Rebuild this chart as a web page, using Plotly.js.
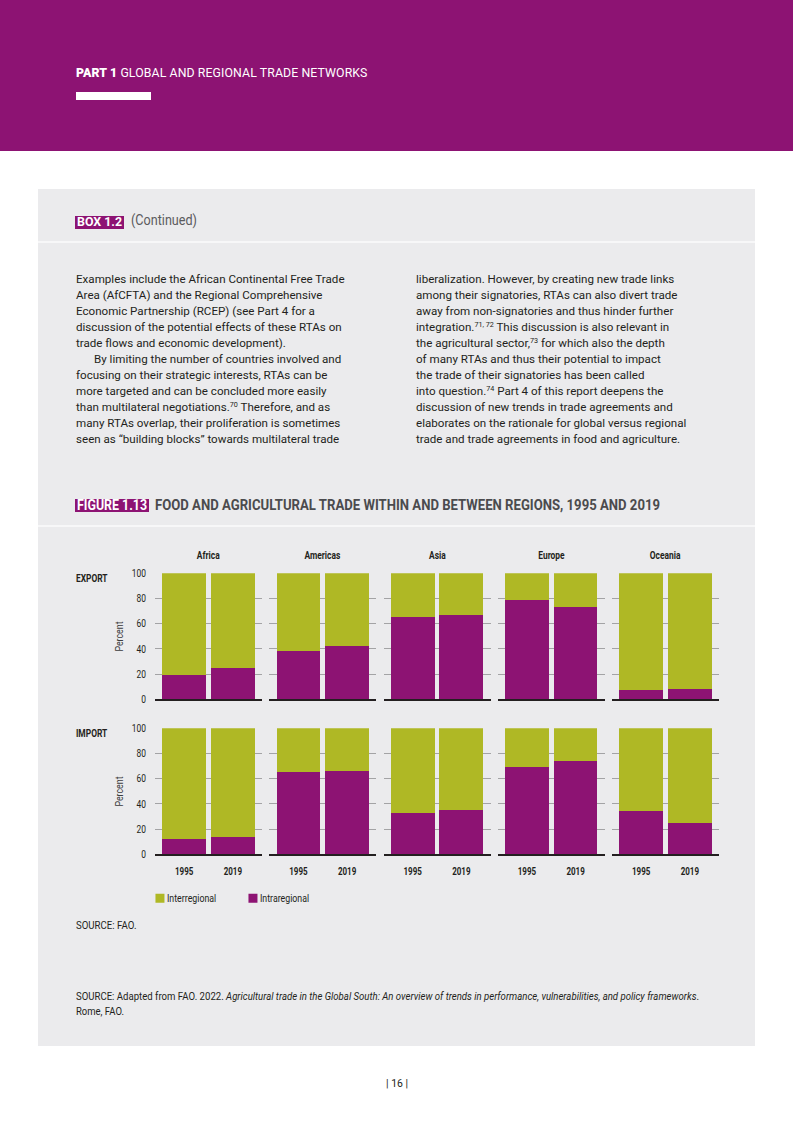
<!DOCTYPE html>
<html>
<head>
<meta charset="utf-8">
<script src="https://cdn.plot.ly/plotly-3.0.1.min.js"></script>
<style>
  html, body { margin:0; padding:0; }
  body { width:793px; height:1122px; position:relative; background:#ffffff; overflow:hidden;
         font-family: Roboto, "Liberation Sans", sans-serif; color:#231f20; }
  .abs { position:absolute; white-space:nowrap; }
  .fit { display:inline-block; transform-origin:left top; white-space:nowrap; }
  #header { left:0; top:0; width:793px; height:151px; background:#8d1373; }
  #part { left:76px; top:66px; font-size:12.3px; color:#fff; letter-spacing:0.1px; }
  #part b { font-weight:900; }
  #rule { left:76px; top:92px; width:75px; height:8px; background:#fff; }
  #box { left:38px; top:189px; width:717px; height:857px; background:#ebebed; }
  .sep { left:38px; width:717px; height:2px; background:#f7f7f8; }
  .tagbox { background:#8d1373; }
  .tagtxt { color:#fff; font-weight:bold; }
  .body { font-size:11.6px; line-height:16px; }
  .body sup { font-size:0.62em; vertical-align:0.5em; line-height:0; }
  .indent { padding-left:18px; }
</style>
</head>
<body>
<div id="header" class="abs"></div>
<div id="part" class="abs"><b>PART 1</b> GLOBAL AND REGIONAL TRADE NETWORKS</div>
<div id="rule" class="abs"></div>
<div id="box" class="abs"></div>

<div class="abs tagbox" style="left:75px; top:215.5px; height:13px; width:49px;"></div>
<div class="abs" style="left:77px; top:213px; font-size:13.5px; line-height:17px;"><span class="fit tagtxt" data-w="45">BOX 1.2</span></div>
<div class="abs" style="left:131px; top:212px; font-size:14.5px; line-height:17px; color:#5b5b5e;"><span class="fit" data-w="66">(Continued)</span></div>
<div class="abs sep" style="top:241px;"></div>

<div class="abs body" style="left:76px; top:271px;">
Examples include the African Continental Free Trade<br>
Area (AfCFTA) and the Regional Comprehensive<br>
Economic Partnership (RCEP) (see Part 4 for a<br>
discussion of the potential effects of these RTAs on<br>
trade flows and economic development).<br>
<span class="indent">By limiting the number of countries involved and</span><br>
focusing on their strategic interests, RTAs can be<br>
more targeted and can be concluded more easily<br>
than multilateral negotiations.<sup>70</sup> Therefore, and as<br>
many RTAs overlap, their proliferation is sometimes<br>
seen as “building blocks” towards multilateral trade
</div>
<div class="abs body" style="left:416px; top:271px;">
liberalization. However, by creating new trade links<br>
among their signatories, RTAs can also divert trade<br>
away from non-signatories and thus hinder further<br>
integration.<sup>71, 72</sup> This discussion is also relevant in<br>
the agricultural sector,<sup>73</sup> for which also the depth<br>
of many RTAs and thus their potential to impact<br>
the trade of their signatories has been called<br>
into question.<sup>74</sup> Part 4 of this report deepens the<br>
discussion of new trends in trade agreements and<br>
elaborates on the rationale for global versus regional<br>
trade and trade agreements in food and agriculture.
</div>

<div class="abs tagbox" style="left:75px; top:499.3px; height:13px; width:74.3px;"></div>
<div class="abs" style="left:77px; top:497px; font-size:14px; line-height:17px;"><span class="fit tagtxt" data-w="70">FIGURE 1.13</span></div>
<div class="abs" style="left:155px; top:497px; font-size:14.3px; line-height:17px; font-weight:bold; color:#4b4b4e;"><span class="fit" data-w="505">FOOD AND AGRICULTURAL TRADE WITHIN AND BETWEEN REGIONS, 1995 AND 2019</span></div>
<div class="abs sep" style="top:525px;"></div>

<div id="chart" class="abs" style="left:0; top:530px; width:793px; height:390px;"></div>

<div class="abs" style="left:76px; top:919px; font-size:10.5px; line-height:14px;"><span class="fit" data-w="60.5">SOURCE: FAO.</span></div>
<div class="abs" style="left:76px; top:989px; font-size:10.5px; line-height:15px;"><span class="fit" data-w="623">SOURCE: Adapted from FAO. 2022. <i>Agricultural trade in the Global South: An overview of trends in performance, vulnerabilities, and policy frameworks</i>.</span></div>
<div class="abs" style="left:76px; top:1004px; font-size:10.5px; line-height:15px;"><span class="fit" data-w="48">Rome, FAO.</span></div>
<div class="abs" style="left:386px; top:1077px; font-size:10px; line-height:14px;"><span class="fit" data-w="22">| 16 |</span></div>

<script>
// ---- data ----
const regions = ["Africa", "Americas", "Asia", "Europe", "Oceania"];
const years = ["1995", "2019"];
const rowLabels = ["EXPORT", "IMPORT"];
// intraregional share (%) per region, [1995, 2019]
const exportIntra = {
  Africa: [19, 25], Americas: [38, 42], Asia: [65, 67], Europe: [79, 73], Oceania: [7, 8]
};
const importIntra = {
  Africa: [12, 14], Americas: [65, 66], Asia: [33, 35], Europe: [69, 74], Oceania: [34, 25]
};
const yTicks = [0, 20, 40, 60, 80, 100];

// ---- condensed-look helper for HTML labels ----
document.querySelectorAll(".fit").forEach(el => {
  const w = parseFloat(el.dataset.w);
  const cw = el.getBoundingClientRect().width;
  if (cw > 0) el.style.transform = "scaleX(" + (w / cw) + ")";
});

// ---- styles ----
const PURPLE = "#8d1373";
const GREEN = "#afb825";
const FONT = 'Roboto, "Liberation Sans", sans-serif';
const INK = "#231f20";

const W = 793, H = 390, TOP = 530;
const panelLeft0 = 155, panelW = 107, panelStep = 114.25;
const rowsPx = [[573.3, 699.3], [728.3, 854.3]]; // page px: top (100), bottom (0)

function yDomain(r) {
  const t = rowsPx[r][0] - TOP, b = rowsPx[r][1] - TOP;
  return [(H - b) / H, (H - t) / H];
}

const intraTraces = [], interTraces = [];
const layout = {
  width: W, height: H,
  margin: {l: 0, r: 0, t: 0, b: 0},
  paper_bgcolor: "rgba(0,0,0,0)",
  plot_bgcolor: "rgba(0,0,0,0)",
  barmode: "stack",
  showlegend: true,
  legend: {
    orientation: "h", x: 0.1765, xanchor: "left", y: 0.056, yanchor: "middle",
    traceorder: "reversed", font: {family: FONT, size: 11, color: INK},
    bgcolor: "rgba(0,0,0,0)", itemwidth: 30, entrywidth: 48, entrywidthmode: "pixels"
  },
  annotations: [],
  font: {family: FONT, color: INK}
};

[exportIntra, importIntra].forEach((dataset, r) => {
  regions.forEach((reg, i) => {
    const idx = r * 5 + i + 1;
    const xs = idx === 1 ? "x" : "x" + idx;
    const ys = idx === 1 ? "y" : "y" + idx;
    const intra = dataset[reg];
    const inter = intra.map(v => 100 - v);
    intraTraces.push({
      type: "bar", x: years, y: intra, xaxis: xs, yaxis: ys, name: "Intraregional",
      legendgroup: "intra", showlegend: idx === 1, width: 0.9,
      marker: {color: PURPLE, line: {width: 0}}, hoverinfo: "skip"
    });
    interTraces.push({
      type: "bar", x: years, y: inter, xaxis: xs, yaxis: ys, name: "Interregional",
      legendgroup: "inter", showlegend: idx === 1, width: 0.9,
      marker: {color: GREEN, line: {width: 0}}, hoverinfo: "skip"
    });
    const x0 = panelLeft0 + i * panelStep;
    layout["xaxis" + (idx === 1 ? "" : idx)] = {
      domain: [x0 / W, (x0 + panelW) / W], anchor: ys, type: "category",
      range: [-0.6, 1.6], showgrid: false, zeroline: false,
      showline: true, linecolor: INK, linewidth: 2, ticks: "",
      showticklabels: r === 1, ticklabelstandoff: 7,
      tickfont: {family: FONT, size: 10, color: INK, weight: 700}, fixedrange: true
    };
    layout["yaxis" + (idx === 1 ? "" : idx)] = {
      domain: yDomain(r), anchor: xs, range: [0, 100], tickvals: yTicks,
      showgrid: true, gridcolor: "#a3a3a5", gridwidth: 1, zeroline: false,
      showline: false, ticks: "", showticklabels: i === 0, ticklabelstandoff: 8,
      tickfont: {family: FONT, size: 10.5, color: INK}, fixedrange: true
    };
    if (r === 0) {
      layout.annotations.push({
        text: "<b>" + reg + "</b>", xref: "paper", yref: "paper",
        x: (x0 + panelW / 2) / W, y: (H - (555.3 - TOP)) / H,
        xanchor: "center", yanchor: "middle", showarrow: false,
        font: {family: FONT, size: 10.5, color: INK}
      });
    }
  });
  const dom = yDomain(r);
  layout.annotations.push({
    text: "<b>" + rowLabels[r] + "</b>", xref: "paper", yref: "paper",
    x: 70 / W, y: (H - ((r === 0 ? 578.3 : 734) - TOP)) / H,
    xanchor: "left", yanchor: "middle", showarrow: false,
    font: {family: FONT, size: 10.5, color: INK}
  });
  layout.annotations.push({
    text: "Percent", xref: "paper", yref: "paper",
    x: 119 / W, y: (dom[0] + dom[1]) / 2, textangle: -90,
    xanchor: "center", yanchor: "middle", showarrow: false,
    font: {family: FONT, size: 11, color: "#3c3c3e"}
  });
});

Plotly.newPlot("chart", intraTraces.concat(interTraces), layout, {staticPlot: true, displayModeBar: false})
  .then(gd => {
    // condensed look for chart text (the reference uses a condensed face)
    gd.querySelectorAll("svg text").forEach(t => {
      try {
        const len = t.getComputedTextLength();
        if (len > 0) {
          t.setAttribute("textLength", (len * 0.8).toFixed(2));
          t.setAttribute("lengthAdjust", "spacingAndGlyphs");
        }
      } catch (e) {}
    });
    // tighter legend entries: smaller swatch, text closer to it
    gd.querySelectorAll(".legend .legendpoints path").forEach(p => {
      const tr = p.getAttribute("transform") || "";
      p.setAttribute("transform", tr + " scale(0.75)");
    });
    gd.querySelectorAll(".legend .legendtext").forEach(t => {
      const x = parseFloat(t.getAttribute("x") || "40");
      t.setAttribute("x", x - 13);
    });
  });
</script>
</body>
</html>
